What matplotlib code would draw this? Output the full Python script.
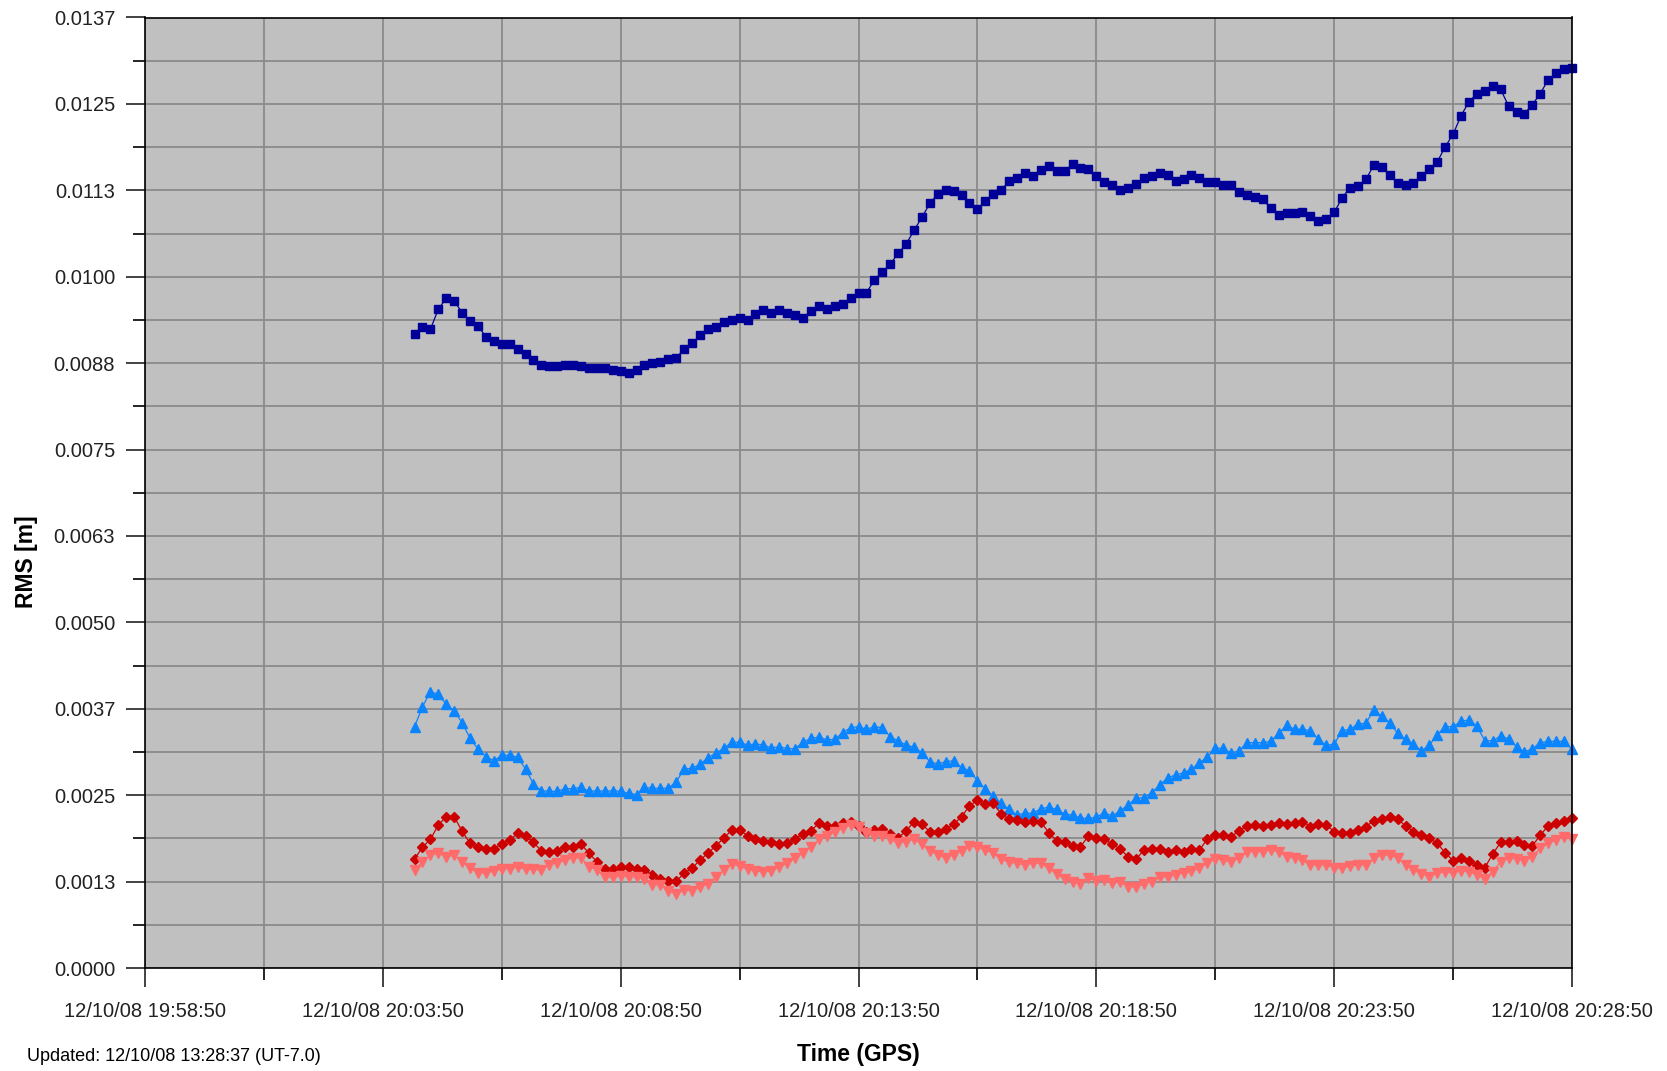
import matplotlib
matplotlib.use('Agg')
import matplotlib.pyplot as plt
import matplotlib.dates as mdates
import numpy as np
import pandas as pd

plt.rcParams['font.family'] = ['Liberation Sans', 'DejaVu Sans']

# RMS values in millimetres, one sample every 10 s from 20:04:30 GPS
rms_square = [
    9.17, 9.27, 9.24, 9.53, 9.69, 9.65, 9.48, 9.36, 9.29, 9.13,
    9.07, 9.02, 9.02, 8.96, 8.88, 8.79, 8.72, 8.71, 8.71, 8.73,
    8.73, 8.71, 8.68, 8.68, 8.68, 8.65, 8.63, 8.61, 8.65, 8.73,
    8.75, 8.77, 8.81, 8.82, 8.96, 9.04, 9.15, 9.25, 9.27, 9.35,
    9.38, 9.40, 9.37, 9.46, 9.52, 9.48, 9.52, 9.48, 9.44, 9.41,
    9.50, 9.57, 9.53, 9.58, 9.60, 9.69, 9.77, 9.77, 9.95, 10.07,
    10.18, 10.34, 10.47, 10.67, 10.86, 11.06, 11.20, 11.26, 11.24, 11.18,
    11.06, 10.98, 11.09, 11.20, 11.25, 11.39, 11.43, 11.50, 11.46, 11.54,
    11.60, 11.53, 11.53, 11.63, 11.58, 11.56, 11.45, 11.37, 11.32, 11.25,
    11.28, 11.34, 11.43, 11.46, 11.50, 11.47, 11.39, 11.41, 11.47, 11.43,
    11.37, 11.37, 11.32, 11.32, 11.22, 11.18, 11.16, 11.12, 10.99, 10.89,
    10.92, 10.92, 10.94, 10.88, 10.81, 10.84, 10.93, 11.14, 11.29, 11.31,
    11.41, 11.61, 11.59, 11.47, 11.35, 11.33, 11.35, 11.45, 11.56, 11.66,
    11.88, 12.06, 12.33, 12.53, 12.65, 12.68, 12.76, 12.71, 12.47, 12.39,
    12.36, 12.49, 12.65, 12.85, 12.94, 13.00, 13.02,
]
rms_up_tri = [
    3.491, 3.780, 3.997, 3.959, 3.815, 3.718, 3.549, 3.323, 3.168, 3.057,
    2.999, 3.077, 3.077, 3.048, 2.879, 2.662, 2.565, 2.556, 2.556, 2.594,
    2.594, 2.614, 2.556, 2.565, 2.556, 2.565, 2.556, 2.527, 2.507, 2.614,
    2.600, 2.600, 2.600, 2.691, 2.879, 2.889, 2.947, 3.042, 3.106, 3.178,
    3.265, 3.265, 3.226, 3.240, 3.226, 3.183, 3.201, 3.172, 3.172, 3.269,
    3.320, 3.342, 3.298, 3.308, 3.404, 3.476, 3.491, 3.453, 3.491, 3.476,
    3.346, 3.284, 3.226, 3.193, 3.115, 2.984, 2.951, 2.984, 2.999, 2.898,
    2.854, 2.710, 2.589, 2.488, 2.383, 2.296, 2.213, 2.238, 2.238, 2.304,
    2.325, 2.296, 2.223, 2.213, 2.166, 2.166, 2.180, 2.247, 2.199, 2.276,
    2.358, 2.455, 2.464, 2.536, 2.647, 2.753, 2.792, 2.824, 2.876, 2.970,
    3.052, 3.178, 3.178, 3.106, 3.143, 3.259, 3.259, 3.259, 3.279, 3.395,
    3.511, 3.453, 3.453, 3.433, 3.308, 3.222, 3.236, 3.433, 3.453, 3.530,
    3.540, 3.732, 3.645, 3.549, 3.395, 3.308, 3.240, 3.143, 3.222, 3.375,
    3.491, 3.491, 3.569, 3.588, 3.501, 3.288, 3.288, 3.356, 3.317, 3.201,
    3.125, 3.172, 3.259, 3.279, 3.279, 3.279, 3.164,
]
rms_diamond = [
    1.577, 1.746, 1.862, 2.069, 2.189, 2.189, 1.978, 1.804, 1.755, 1.726,
    1.726, 1.794, 1.852, 1.949, 1.910, 1.818, 1.693, 1.678, 1.693, 1.755,
    1.755, 1.794, 1.659, 1.538, 1.432, 1.432, 1.457, 1.465, 1.432, 1.418,
    1.345, 1.283, 1.254, 1.254, 1.370, 1.442, 1.562, 1.659, 1.769, 1.876,
    1.996, 1.996, 1.914, 1.862, 1.842, 1.827, 1.794, 1.804, 1.862, 1.945,
    1.985, 2.095, 2.054, 2.054, 2.093, 2.108, 2.054, 1.972, 1.996, 2.006,
    1.938, 1.885, 1.982, 2.116, 2.079, 1.972, 1.972, 2.006, 2.079, 2.189,
    2.344, 2.430, 2.372, 2.383, 2.228, 2.151, 2.141, 2.116, 2.131, 2.116,
    1.957, 1.842, 1.827, 1.765, 1.755, 1.910, 1.876, 1.866, 1.794, 1.721,
    1.610, 1.572, 1.707, 1.721, 1.717, 1.682, 1.707, 1.682, 1.727, 1.702,
    1.869, 1.919, 1.924, 1.899, 1.982, 2.059, 2.073, 2.059, 2.073, 2.093,
    2.083, 2.093, 2.116, 2.044, 2.083, 2.073, 1.972, 1.949, 1.957, 1.996,
    2.044, 2.131, 2.151, 2.189, 2.151, 2.059, 1.972, 1.924, 1.876, 1.804,
    1.668, 1.552, 1.587, 1.552, 1.490, 1.451, 1.649, 1.818, 1.818, 1.842,
    1.779, 1.769, 1.920, 2.059, 2.093, 2.131, 2.170,
]
rms_down_tri = [
    1.418, 1.538, 1.635, 1.659, 1.610, 1.630, 1.538, 1.442, 1.379, 1.370,
    1.403, 1.428, 1.437, 1.457, 1.432, 1.428, 1.418, 1.490, 1.523, 1.562,
    1.596, 1.596, 1.465, 1.418, 1.312, 1.312, 1.331, 1.321, 1.312, 1.283,
    1.201, 1.201, 1.114, 1.070, 1.128, 1.118, 1.176, 1.211, 1.312, 1.418,
    1.504, 1.476, 1.428, 1.403, 1.393, 1.403, 1.465, 1.515, 1.587, 1.665,
    1.746, 1.862, 1.910, 1.972, 2.021, 2.069, 2.035, 1.949, 1.910, 1.914,
    1.862, 1.804, 1.827, 1.862, 1.794, 1.697, 1.635, 1.596, 1.635, 1.693,
    1.765, 1.746, 1.707, 1.659, 1.577, 1.529, 1.515, 1.490, 1.515, 1.515,
    1.442, 1.355, 1.287, 1.248, 1.215, 1.298, 1.263, 1.273, 1.225, 1.248,
    1.176, 1.176, 1.215, 1.248, 1.321, 1.321, 1.345, 1.379, 1.400, 1.442,
    1.519, 1.582, 1.562, 1.529, 1.596, 1.682, 1.682, 1.682, 1.707, 1.682,
    1.610, 1.587, 1.562, 1.490, 1.490, 1.490, 1.451, 1.442, 1.476, 1.490,
    1.490, 1.587, 1.635, 1.635, 1.587, 1.490, 1.418, 1.360, 1.321, 1.370,
    1.393, 1.370, 1.408, 1.393, 1.345, 1.287, 1.393, 1.538, 1.587, 1.577,
    1.548, 1.610, 1.732, 1.804, 1.852, 1.899, 1.862,
]

y_ticks = [0.0, 0.00125, 0.0025, 0.00375, 0.005, 0.00625, 0.0075,
           0.00875, 0.01, 0.01125, 0.0125, 0.01375]
y_labels = ['0.0000', '0.0013', '0.0025', '0.0037', '0.0050', '0.0063',
            '0.0075', '0.0088', '0.0100', '0.0113', '0.0125', '0.0137']

times = pd.date_range('2008-12-10 20:04:30', periods=len(rms_square), freq='10s')
t_start = pd.Timestamp('2008-12-10 19:58:50')
t_end = pd.Timestamp('2008-12-10 20:28:50')

fig = plt.figure(figsize=(16.67, 10.71), dpi=100)
ax = fig.add_axes([145 / 1667, 1 - 968 / 1071, 1427 / 1667, 950.5 / 1071])
ax.set_facecolor('#c0c0c0')
ax.set_axisbelow(True)

series = [
    (rms_square, '#000099', 's', 5.5),
    (rms_up_tri, '#0a84ff', '^', 6.5),
    (rms_diamond, '#cc0000', 'D', 5.0),
    (rms_down_tri, '#ff6b6b', 'v', 6.5),
]
for vals, col, mk, ms in series:
    ax.plot(times, np.array(vals) / 1000, color=col, lw=0.9, marker=mk,
            ms=ms, mec=col, mfc=col, clip_on=False)

ax.set_xlim(t_start, t_end)
ax.set_xticks(pd.date_range(t_start, t_end, freq='5min'))
ax.set_xticks(pd.date_range(t_start, t_end, freq='150s'), minor=True)
ax.xaxis.set_major_formatter(mdates.DateFormatter('%m/%d/%y %H:%M:%S'))

ax.set_ylim(0, 0.01375)
ax.set_yticks(y_ticks)
ax.set_yticklabels(y_labels)
ax.set_yticks(np.array(y_ticks[:-1]) + 0.000625, minor=True)

ax.grid(which='both', color='#8a8a8a', lw=1.3)
ax.tick_params(which='major', length=13.5, width=1.2, labelsize=14.5, pad=8,
               colors='#222222')
ax.tick_params(axis='x', which='major', pad=11)
ax.tick_params(which='minor', length=8.5, width=1.2)
for s in ax.spines.values():
    s.set_color('black')
    s.set_linewidth(1.2)

fig.text(0.016, 0.476, 'RMS [m]', rotation=90, ha='center', va='center',
         fontsize=16.5, fontweight='bold')
fig.text(0.5147, 0.0153, 'Time (GPS)', ha='center', va='center',
         fontsize=16.5, fontweight='bold')
fig.text(0.016, 0.0134, 'Updated: 12/10/08 13:28:37 (UT-7.0)', ha='left',
         va='center', fontsize=13)

fig.savefig('out.png', dpi=100)
